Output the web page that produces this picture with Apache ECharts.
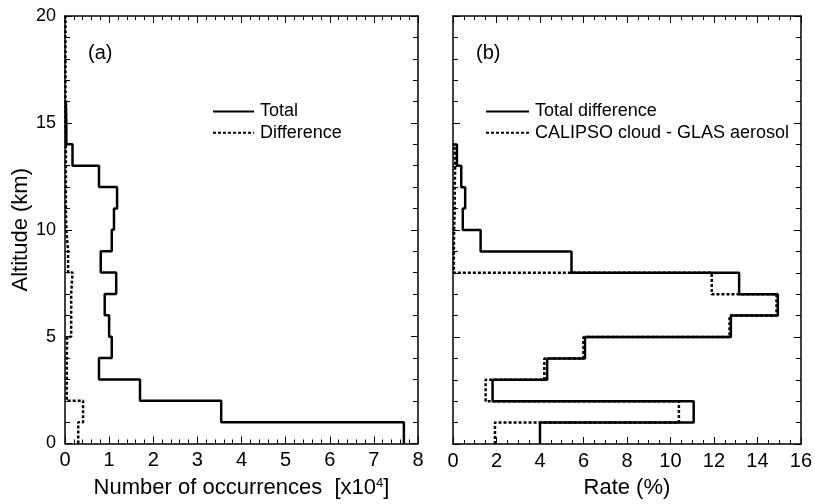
<!DOCTYPE html>
<html><head><meta charset="utf-8">
<script src="https://cdn.jsdelivr.net/npm/echarts@6/dist/echarts.min.js"></script>
<style>html,body{margin:0;padding:0;background:#fff}#c{width:815px;height:504px}</style>
</head><body><div id="c"></div>
<script>
// Altitude bins (km), lower edges 0..19, bin width 1 km
const altitudeTicks = [0, 5, 10, 15, 20];
// Panel (a): number of occurrences [x10^4], per 1-km bin starting at 0 km
const totalCount = [7.68, 3.54, 1.70, 0.77, 1.06, 1.00, 0.90, 1.16, 0.81, 1.06, 1.11, 1.18, 0.77, 0.17, 0.03, 0.02];
const diffCount  = [0.30, 0.41, 0.04, 0.04, 0.05, 0.14, 0.14, 0.17, 0.07, 0.03, 0.02, 0.02, 0.02, 0.02, 0.01, 0.01, 0.01, 0.01, 0.01, 0.01];
// Panel (b): rate (%)
const totalDiffRate = [4.00, 11.07, 1.82, 4.33, 6.07, 12.78, 14.94, 13.16, 5.45, 1.27, 0.45, 0.56, 0.38, 0.18];
const cloudAerosolRate = [1.93, 10.39, 1.50, 4.20, 6.00, 12.72, 14.88, 11.90, 0.04, 0.05, 0.08, 0.08, 0.10, 0.06];

function profile(vals, endZero) {
  const pts = [];
  vals.forEach((v, i) => { pts.push([v, i]); pts.push([v, i + 1]); });
  if (endZero) pts.push([0, vals.length]);
  return pts;
}

const FONT = 'Liberation Sans, Arial, sans-serif';
const chart = echarts.init(document.getElementById('c'), null, {renderer: 'canvas'});

function xAx(grid, max, interval, split, pos, labels, name) {
  return {
    type: 'value', gridIndex: grid, min: 0, max: max, interval: interval, position: pos,
    axisLine: {show: true, onZero: false, lineStyle: {color: '#000', width: 1.5}},
    axisTick: {show: true, inside: true, length: 7, lineStyle: {color: '#000', width: 1}},
    minorTick: {show: true, splitNumber: split, length: 4, lineStyle: {color: '#000', width: 1}},
    splitLine: {show: false}, minorSplitLine: {show: false},
    axisLabel: {show: labels, color: '#000', fontSize: 20, fontFamily: FONT, margin: 7},
    name: name || '', nameLocation: 'middle', nameGap: 33,
    nameTextStyle: {color: '#000', fontSize: 22, fontFamily: FONT,
      rich: {sup: {fontSize: 13, fontFamily: FONT, color: '#000', padding: [0, 0, 10, 0]}}}
  };
}
function yAx(grid, pos, labels, name) {
  return {
    type: 'value', gridIndex: grid, min: 0, max: 20, interval: 5, position: pos,
    axisLine: {show: true, onZero: false, lineStyle: {color: '#000', width: 1.5}},
    axisTick: {show: true, inside: true, length: 7, lineStyle: {color: '#000', width: 1}},
    minorTick: {show: true, splitNumber: 5, length: 5, lineStyle: {color: '#000', width: 1}},
    splitLine: {show: false}, minorSplitLine: {show: false},
    axisLabel: {show: labels, color: '#000', fontSize: 18, fontFamily: FONT, margin: 9},
    name: name || '', nameLocation: 'middle', nameGap: 30,
    nameTextStyle: {color: '#000', fontSize: 22, fontFamily: FONT}
  };
}
const solid = {color: '#000', width: 2.5, type: 'solid'};
const dotted = {color: '#000', width: 2.5, type: [3, 2]};
function ser(name, data, xi, yi, ls, z) {
  return {name: name, type: 'line', xAxisIndex: xi, yAxisIndex: yi, data: data, symbol: 'none',
    lineStyle: ls, itemStyle: {color: '#000'}, z: z, animation: false, silent: true};
}
const legendText = {fontSize: 18, lineHeight: 18, color: '#000', fontFamily: FONT, padding: [0, 0, 0, 1]};

chart.setOption({
  animation: false,
  backgroundColor: '#fff',
  grid: [
    {left: 65, top: 16, width: 353, height: 436},
    {left: 453, top: 16, width: 353, height: 436}
  ],
  title: [
    {text: '(a)', left: 88, top: 43, padding: 0, textStyle: {fontSize: 20, fontWeight: 'normal', color: '#000', fontFamily: FONT}},
    {text: '(b)', left: 476, top: 43, padding: 0, textStyle: {fontSize: 20, fontWeight: 'normal', color: '#000', fontFamily: FONT}}
  ],
  legend: [
    {data: ['Total', 'Difference'], orient: 'vertical', left: 212, top: 102.5, padding: 0, itemWidth: 41, itemHeight: 14, itemGap: 3.3,
      itemStyle: {opacity: 0}, textStyle: legendText, selectedMode: false},
    {data: ['Total difference', 'CALIPSO cloud - GLAS aerosol'], orient: 'vertical', left: 485, top: 102.5, padding: 0, itemWidth: 43, itemHeight: 14, itemGap: 3.3,
      itemStyle: {opacity: 0}, textStyle: legendText, selectedMode: false}
  ],
  xAxis: [
    xAx(0, 8, 1, 5, 'bottom', true, 'Number of occurrences  [x10{sup|4}]'),
    xAx(0, 8, 1, 5, 'top', false),
    xAx(1, 16, 2, 4, 'bottom', true, 'Rate (%)'),
    xAx(1, 16, 2, 4, 'top', false)
  ],
  yAxis: [
    yAx(0, 'left', true, 'Altitude (km)'),
    yAx(0, 'right', false),
    yAx(1, 'left', false),
    yAx(1, 'right', false)
  ],
  series: [
    ser('Difference', profile(diffCount, false), 0, 0, dotted, 2),
    ser('Total', profile(totalCount, true), 0, 0, solid, 3),
    ser('CALIPSO cloud - GLAS aerosol', profile(cloudAerosolRate, true), 2, 2, dotted, 2),
    ser('Total difference', profile(totalDiffRate, true), 2, 2, solid, 3)
  ]
});
</script></body></html>
